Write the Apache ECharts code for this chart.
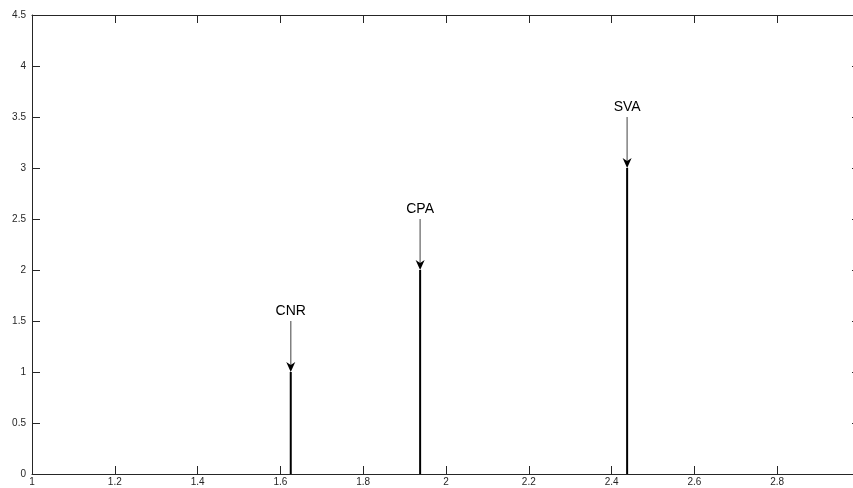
<!DOCTYPE html>
<html>
<head>
<meta charset="utf-8">
<script src="https://cdn.jsdelivr.net/npm/echarts@6/dist/echarts.min.js"></script>
<style>html,body{margin:0;padding:0;background:#fff;overflow:hidden;width:853px;height:488px}#c{width:880px;height:488px}</style>
</head>
<body>
<div id="c"></div>
<script>
// Data
const stemX = [1.625, 1.9375, 2.4375];
const stemY = [1, 2, 3];
const stemLabels = ['CNR', 'CPA', 'SVA'];
const arrowLen = 0.5; // annotation arrow starts this far above the stem top

const chart = echarts.init(document.getElementById('c'));
const data = stemX.map((x, i) => [x, stemY[i], stemLabels[i]]);

const axisCol = '#262626';
const baseAxis = {
  type: 'value',
  axisLine: { show: true, onZero: false, lineStyle: { color: axisCol, width: 1 } },
  axisTick: { show: true, inside: true, length: 8, lineStyle: { color: axisCol } },
  splitLine: { show: false },
  axisLabel: { color: axisCol, fontSize: 10, fontFamily: 'Liberation Sans' }
};

chart.setOption({
  animation: false,
  grid: { left: 32, top: 15, width: 828, bottom: 14, containLabel: false, outerBoundsMode: 'none' },
  xAxis: [
    Object.assign({}, baseAxis, { min: 1, max: 3, interval: 0.2, position: 'bottom',
      axisLabel: Object.assign({}, baseAxis.axisLabel, { margin: 3,
        formatter: v => (Math.abs(v - 3) < 1e-9 ? '' : String(+v.toFixed(1))) }) }),
    Object.assign({}, baseAxis, { min: 1, max: 3, interval: 0.2, position: 'top',
      axisLabel: { show: false } })
  ],
  yAxis: [
    Object.assign({}, baseAxis, { min: 0, max: 4.5, interval: 0.5, position: 'left',
      axisLabel: Object.assign({}, baseAxis.axisLabel, { margin: 6 }) }),
    Object.assign({}, baseAxis, { min: 0, max: 4.5, interval: 0.5, position: 'right',
      axisLabel: { show: false } })
  ],
  series: [{
    type: 'custom',
    xAxisIndex: 0, yAxisIndex: 0,
    data: data,
    renderItem: function (params, api) {
      const x = api.value(0), y = api.value(1), lab = api.value(2);
      const p0 = api.coord([x, 0]);
      const p1 = api.coord([x, y]);
      const p2 = api.coord([x, y + arrowLen]);
      const ah = 10, aw = 4.5, notch = 3;
      return {
        type: 'group',
        children: [
          { type: 'line', shape: { x1: p0[0], y1: p0[1], x2: p1[0], y2: p1[1] },
            style: { stroke: '#000', lineWidth: 2 } },
          { type: 'line', shape: { x1: p2[0], y1: p2[1], x2: p1[0], y2: p1[1] - 4 },
            style: { stroke: '#808080', lineWidth: 1.5 } },
          { type: 'polygon', shape: { points: [
              [p1[0], p1[1]], [p1[0] - aw, p1[1] - ah], [p1[0], p1[1] - ah + notch], [p1[0] + aw, p1[1] - ah]
            ] }, style: { fill: '#000' } },
          { type: 'text', x: p2[0], y: p2[1] - 3,
            style: { text: lab, fill: '#000', font: '14px "Liberation Sans", Arial, sans-serif',
              textAlign: 'center', textVerticalAlign: 'bottom' } }
        ]
      };
    }
  }]
});
</script>
</body>
</html>
